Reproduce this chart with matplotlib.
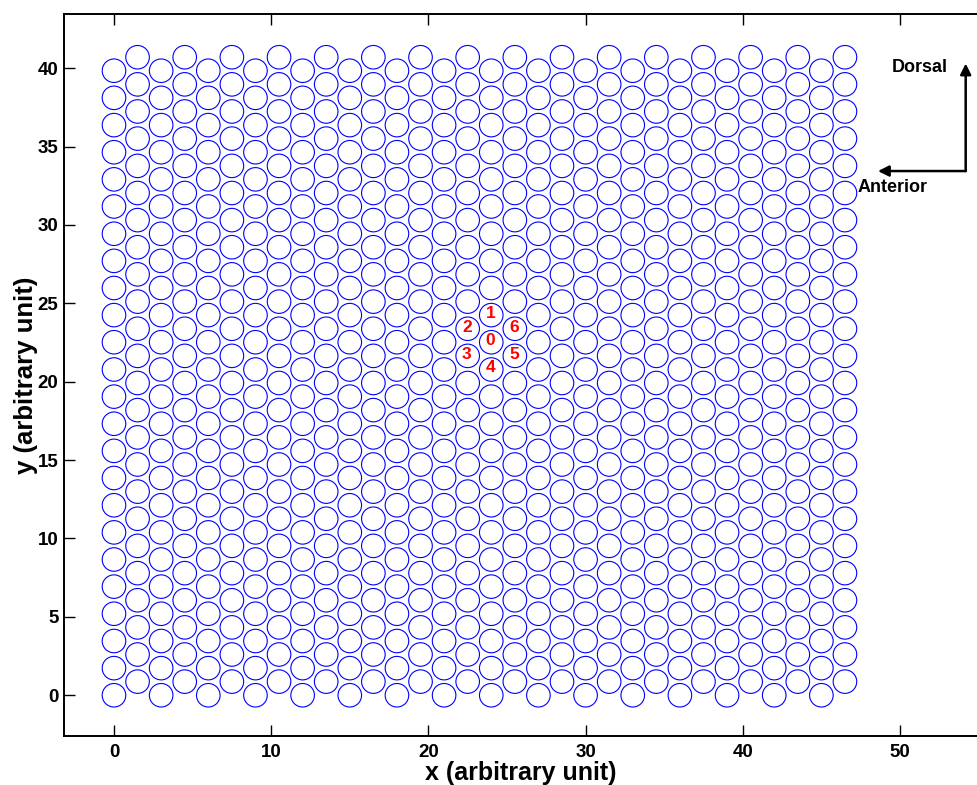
import matplotlib
matplotlib.use('Agg')
import matplotlib.pyplot as plt
from matplotlib.patches import Circle
from matplotlib.collections import PatchCollection

# x positions of the lattice columns
col_x = [0, 1.5, 3, 4.5, 6, 7.5, 9, 10.5, 12, 13.5, 15, 16.5, 18, 19.5, 21, 22.5,
         24, 25.5, 27, 28.5, 30, 31.5, 33, 34.5, 36, 37.5, 39, 40.5, 42, 43.5, 45, 46.5]

# y positions of the cells in even and odd columns
rows_even = [0, 1.73, 3.46, 5.20, 6.93, 8.66, 10.39, 12.12, 13.86, 15.59, 17.32, 19.05,
             20.78, 22.52, 24.25, 25.98, 27.71, 29.44, 31.18, 32.91, 34.64, 36.37, 38.11, 39.84]
rows_odd = [0.87, 2.60, 4.33, 6.06, 7.79, 9.53, 11.26, 12.99, 14.72, 16.45, 18.19, 19.92,
            21.65, 23.38, 25.11, 26.85, 28.58, 30.31, 32.04, 33.77, 35.51, 37.24, 38.97, 40.70]

cell_radius = 0.75

# labelled cells around the centre cell
label_text = ['0', '1', '2', '3', '4', '5', '6']
label_x = [24, 24, 22.5, 22.5, 24, 25.5, 25.5]
label_y = [22.52, 24.25, 23.38, 21.65, 20.78, 21.65, 23.38]

plt.rcParams['font.family'] = ['Liberation Sans', 'DejaVu Sans']
plt.rcParams['font.weight'] = 'bold'

fig = plt.figure(figsize=(9.77, 7.85), dpi=100)
ax = fig.add_axes([0.0655, 0.0624, 0.9345, 0.9198])

# Build the circles
patches = []
for i, x in enumerate(col_x):
    ys = rows_even if i % 2 == 0 else rows_odd
    for y in ys:
        patches.append(Circle((x, y), cell_radius))
pc = PatchCollection(patches, facecolor='none', edgecolor='blue', linewidth=0.8)
ax.add_collection(pc)

# cell numbers
for t, x, y in zip(label_text, label_x, label_y):
    ax.text(x - 0.05, y + 0.1, t, color='red', fontsize=12.5, fontweight='bold',
            ha='center', va='center')

# Dorsal / Anterior arrows
corner = (54.18, 33.44)
ax.annotate('', xy=(54.18, 40.3), xytext=corner,
            arrowprops=dict(arrowstyle='-|>', color='black', lw=1.8,
                            mutation_scale=16, shrinkA=0, shrinkB=0))
ax.annotate('', xy=(48.6, 33.44), xytext=corner,
            arrowprops=dict(arrowstyle='-|>', color='black', lw=1.8,
                            mutation_scale=16, shrinkA=0, shrinkB=0))
ax.text(51.27, 40.03, 'Dorsal', fontsize=13, fontweight='bold', ha='center', va='center')
ax.text(49.53, 32.37, 'Anterior', fontsize=13, fontweight='bold', ha='center', va='center')

# Axes limits and ticks
ax.set_xlim(-3.18, 54.9)
ax.set_ylim(-2.6, 43.46)
ax.set_xticks([0, 10, 20, 30, 40, 50])
ax.set_yticks([0, 5, 10, 15, 20, 25, 30, 35, 40])
ax.tick_params(direction='in', length=8, width=1, top=True, right=False,
               labelsize=13.5, pad=6)
ax.tick_params(axis='y', pad=4)
for lab in ax.get_xticklabels() + ax.get_yticklabels():
    lab.set_fontweight('bold')
for s in ['left', 'bottom', 'top']:
    ax.spines[s].set_linewidth(1.4)
ax.spines['right'].set_visible(False)

ax.set_xlabel('x (arbitrary unit)', fontsize=18, fontweight='bold', labelpad=0)
ax.set_ylabel('y (arbitrary unit)', fontsize=18.5, fontweight='bold', labelpad=0)

plt.savefig('out.png', dpi=100)
